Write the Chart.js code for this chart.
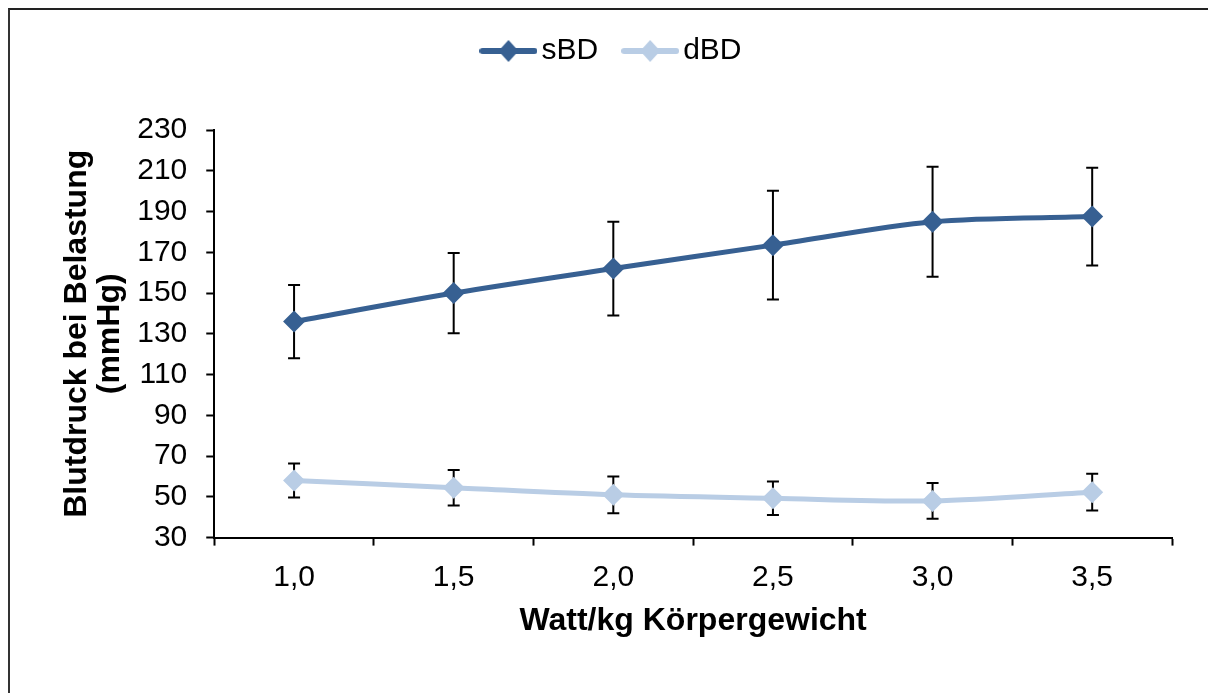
<!DOCTYPE html>
<html lang="de">
<head>
    <meta charset="UTF-8">
    <title>Blutdruck bei Belastung</title>
    <style>
        html, body { margin: 0; padding: 0; background: #fff; }
        #frame {
            position: absolute; left: 8px; top: 8px; width: 1200px; height: 685px;
            border-top: 2px solid #222; border-left: 2px solid #333; box-sizing: border-box;
        }
        #wrap { position: absolute; left: 0; top: 0; width: 1208px; height: 693px; }
    </style>
</head>
<body>
    <div id="frame"></div>
    <div id="wrap"><canvas id="bpChart"></canvas></div>
    <script src="https://cdn.jsdelivr.net/npm/chart.js"></script>
    <script>
        // Werte
        const labels = ['1,0', '1,5', '2,0', '2,5', '3,0', '3,5'];
        const sBD = [136, 150, 162, 173.5, 185, 187.5];
        const sBDErr = [18, 19.7, 23, 26.7, 27, 24];
        const dBD = [58, 54.5, 51, 49.3, 48, 52.3];
        const dBDErr = [8.3, 8.7, 9, 8.2, 8.8, 9];
        const yTicks = [30, 50, 70, 90, 110, 130, 150, 170, 190, 210, 230];

        const darkBlue = '#376092';
        const lightBlue = '#b9cde5';
        const FONT = 'Liberation Sans, Arial';

        // legend marker: line with diamond
        function legendIcon(color) {
            const c = document.createElement('canvas');
            c.width = 58; c.height = 24;
            const g = c.getContext('2d');
            g.strokeStyle = color;
            g.lineWidth = 6;
            g.lineCap = 'round';
            g.beginPath(); g.moveTo(3, 12); g.lineTo(55, 12); g.stroke();
            g.fillStyle = color;
            g.beginPath(); g.moveTo(29, 1); g.lineTo(39, 12); g.lineTo(29, 23); g.lineTo(19, 12); g.closePath(); g.fill();
            return c;
        }

        // error bars, drawn under the lines
        const errorBars = {
            id: 'errorBars',
            beforeDatasetsDraw(chart) {
                const ctx = chart.ctx;
                const y = chart.scales.y;
                ctx.save();
                ctx.strokeStyle = '#000';
                ctx.lineWidth = 2;
                chart.data.datasets.forEach((ds, i) => {
                    const meta = chart.getDatasetMeta(i);
                    meta.data.forEach((pt, j) => {
                        const v = ds.data[j], e = ds.errors[j];
                        const top = y.getPixelForValue(v + e);
                        const bot = y.getPixelForValue(v - e);
                        ctx.beginPath();
                        ctx.moveTo(pt.x, top); ctx.lineTo(pt.x, bot);
                        ctx.moveTo(pt.x - 6, top); ctx.lineTo(pt.x + 6, top);
                        ctx.moveTo(pt.x - 6, bot); ctx.lineTo(pt.x + 6, bot);
                        ctx.stroke();
                    });
                });
                ctx.restore();
            }
        };

        // extra space below the legend
        const legendGap = {
            id: 'legendGap',
            beforeInit(chart) {
                const fit = chart.legend.fit;
                chart.legend.fit = function () {
                    fit.bind(chart.legend)();
                    this.height += 54;
                };
            }
        };

        const ctx = document.getElementById('bpChart').getContext('2d');
        new Chart(ctx, {
            type: 'line',
            data: {
                labels: labels,
                datasets: [
                    {
                        label: 'sBD',
                        data: sBD,
                        errors: sBDErr,
                        borderColor: darkBlue,
                        backgroundColor: darkBlue,
                        borderWidth: 5,
                        pointStyle: 'rectRot',
                        pointRadius: 11,
                        pointBorderWidth: 0,
                        tension: 0.3,
                    },
                    {
                        label: 'dBD',
                        data: dBD,
                        errors: dBDErr,
                        borderColor: lightBlue,
                        backgroundColor: lightBlue,
                        borderWidth: 5,
                        pointStyle: 'rectRot',
                        pointRadius: 11,
                        pointBorderWidth: 0,
                        tension: 0.3,
                    }
                ]
            },
            options: {
                responsive: true,
                maintainAspectRatio: false,
                animation: false,
                layout: { padding: { top: 2, right: 36, bottom: 53, left: 60 } },
                plugins: {
                    tooltip: { enabled: false },
                    legend: {
                        position: 'top',
                        labels: {
                            usePointStyle: true,
                            pointStyleWidth: 36,
                            padding: 34,
                            color: '#000',
                            font: { family: FONT, size: 30 },
                            generateLabels(chart) {
                                return chart.data.datasets.map((ds, i) => ({
                                    text: ds.label,
                                    pointStyle: legendIcon(ds.borderColor),
                                    fillStyle: ds.borderColor,
                                    strokeStyle: ds.borderColor,
                                    lineWidth: 0,
                                    fontColor: '#000',
                                    datasetIndex: i,
                                    hidden: false,
                                }));
                            }
                        }
                    }
                },
                scales: {
                    x: {
                        offset: true,
                        grid: {
                            offset: true,
                            drawOnChartArea: false,
                            tickLength: 8,
                            tickColor: '#000',
                            tickWidth: 2,
                        },
                        border: { color: '#000', width: 2 },
                        ticks: {
                            color: '#000',
                            padding: 14,
                            font: { family: FONT, size: 30 },
                        },
                        title: {
                            display: true,
                            text: 'Watt/kg Körpergewicht',
                            color: '#000',
                            padding: { top: -8, bottom: 0 },
                            font: { family: FONT, size: 32, weight: 'bold' },
                        }
                    },
                    y: {
                        min: 30,
                        max: 230,
                        afterBuildTicks(axis) {
                            axis.ticks = yTicks.map(v => ({ value: v }));
                        },
                        grid: {
                            drawOnChartArea: false,
                            tickLength: 8,
                            tickColor: '#000',
                            tickWidth: 2,
                        },
                        border: { color: '#000', width: 2 },
                        ticks: {
                            color: '#000',
                            padding: 19,
                            font: { family: FONT, size: 30 },
                        },
                        title: {
                            display: true,
                            text: ['Blutdruck bei Belastung', '(mmHg)'],
                            color: '#000',
                            padding: { top: 0, bottom: -9 },
                            font: { family: FONT, size: 32, weight: 'bold', lineHeight: 1.05 },
                        }
                    }
                }
            },
            plugins: [errorBars, legendGap]
        });
    </script>
</body>
</html>
